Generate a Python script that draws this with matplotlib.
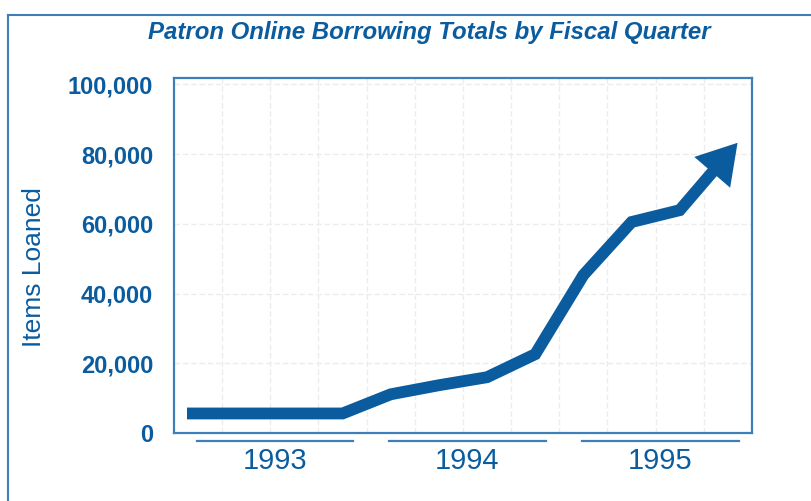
import matplotlib
matplotlib.use('Agg')
import matplotlib.pyplot as plt
from matplotlib.patches import FancyArrowPatch
from matplotlib.lines import Line2D
import matplotlib.transforms as mtransforms
import numpy as np

plt.rcParams['font.family'] = ['Liberation Sans', 'DejaVu Sans']

# ---------------- data ----------------
quarters = ['Q1 1993', 'Q2 1993', 'Q3 1993', 'Q4 1993',
            'Q1 1994', 'Q2 1994', 'Q3 1994', 'Q4 1994',
            'Q1 1995', 'Q2 1995', 'Q3 1995', 'Q4 1995']
items_loaned = [5600, 5600, 5600, 5600,
                11100, 13700, 16000, 22600,
                45300, 60500, 63900, 80000]
years = ['1993', '1994', '1995']
y_ticks = [0, 20000, 40000, 60000, 80000, 100000]
title = 'Patron Online Borrowing Totals by Fiscal Quarter'
y_label = 'Items Loaned'

# ---------------- style ----------------
BLUE = '#0a5c9f'
FRAME = '#3f7fb9'
GRID = '#ececec'

fig = plt.figure(figsize=(8.12, 5.01), dpi=100)
fig.patch.set_facecolor('white')
ax = fig.add_axes([174 / 812, 68 / 501, 578 / 812, 355 / 501])

n = len(quarters)
x = np.arange(n) + 0.5
y = np.array(items_loaned, dtype=float)

# line starts a little before the first quarter
lead = 0.23
xs = np.concatenate([[x[0] - lead], x])
ys = np.concatenate([[y[0]], y])
ax.plot(xs, ys, color=BLUE, lw=8.5, solid_joinstyle='miter',
        solid_capstyle='butt', zorder=3)

# arrow head continuing the last segment
ext = 0.2
tip = (x[-1] + ext * (x[-1] - x[-2]), y[-1] + ext * (y[-1] - y[-2]))
arrow = FancyArrowPatch(posA=(x[-2], y[-2]), posB=tip,
                        arrowstyle='-|>,head_length=28,head_width=17',
                        mutation_scale=1, lw=0, color=BLUE,
                        shrinkA=0, shrinkB=0, zorder=4)
ax.add_patch(arrow)

ax.set_xlim(0, n)
ax.set_ylim(0, 101800)

ax.set_yticks(y_ticks)
ax.set_yticklabels([f'{v:,}' for v in y_ticks], fontsize=17, fontweight='bold',
                   color=BLUE)
ax.set_xticks([])
ax.set_xticks(np.arange(1, n), minor=True)
ax.tick_params(axis='both', which='both', length=0)
ax.tick_params(axis='y', pad=15)
ax.grid(True, axis='y', which='major', color=GRID, lw=1, ls=(0, (4, 2)))
ax.grid(True, axis='x', which='minor', color=GRID, lw=1, ls=(0, (4, 2)))
ax.set_axisbelow(True)
for s in ax.spines.values():
    s.set_color(FRAME)
    s.set_linewidth(1.6)

# year labels with underlines
trans = mtransforms.blended_transform_factory(ax.transData, ax.transAxes)
for i, yr in enumerate(years):
    x0 = 4 * i
    ax.add_line(Line2D([x0 + 0.47, x0 + 3.72], [-0.022, -0.022], transform=trans,
                       color=FRAME, lw=1.6, clip_on=False))
    ax.text(x0 + 2.09, -0.079, yr, transform=trans, ha='center', va='center',
            fontsize=21, color=BLUE)

fig.text(34 / 812, 1 - 267 / 501, y_label, rotation=90, ha='center', va='center',
         fontsize=19, color=BLUE)
fig.text(429 / 812, 1 - 33 / 501, title, ha='center', va='center',
         fontsize=17.3, fontweight='bold', fontstyle='italic', color=BLUE)

# outer box of the figure panel
fig.add_artist(Line2D([8 / 812, 1.0], [1 - 15 / 501, 1 - 15 / 501],
                      transform=fig.transFigure, color=FRAME, lw=1.5))
fig.add_artist(Line2D([8 / 812, 8 / 812], [0, 1 - 15 / 501],
                      transform=fig.transFigure, color=FRAME, lw=1.5))

fig.savefig('out.png', dpi=100, facecolor='white')
